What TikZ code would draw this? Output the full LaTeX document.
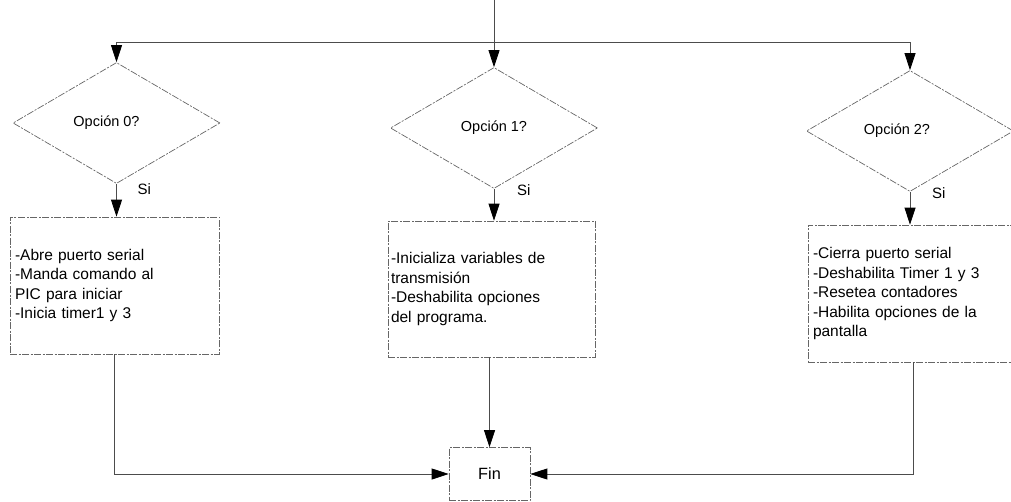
\documentclass[tikz,border=0pt]{standalone}
\usepackage{fontspec}
\setmainfont{Liberation Sans}
\usetikzlibrary{shapes.geometric,arrows.meta,calc}
\begin{document}
\begin{tikzpicture}[x=1pt,y=-1pt,
  shapeline/.style={draw=black!60,line width=0.7pt,dash pattern=on 7pt off 1.5pt on 2pt off 1.5pt},
  decision/.style={shapeline,diamond,inner sep=0pt,minimum width=207pt,minimum height=121pt,
    font=\fontsize{14.5}{17}\selectfont},
  procbox/.style={shapeline,rectangle,inner sep=3pt,align=left,anchor=center,
    font=\fontsize{15.5}{19.5}\selectfont},
  finbox/.style={shapeline,rectangle,minimum width=81pt,minimum height=53pt,inner sep=0pt,
    font=\fontsize{16.3}{19}\selectfont},
  silabel/.style={font=\fontsize{15}{17}\selectfont,inner sep=0pt,anchor=west},
  conn/.style={draw=black!70,line width=0.8pt},
  arr/.style={conn,-{Triangle[length=17pt,width=11pt,color=black]}}]
\useasboundingbox (0,0) rectangle (1011,502);
\clip (0,0) rectangle (1011,502);

% decisions
\node[decision] (d0) at (116.5,123) {Opción 0?\hspace*{20pt}};
\node[decision] (d1) at (494,128) {Opción 1?};
\node[decision] (d2) at (910,131) {Opción 2?\hspace*{26pt}};

% Si labels
\node[silabel] (s0) at ($(d0.south)+(21,5)$) {Si};
\node[silabel] (s1) at ($(d1.south)+(23,1)$) {Si};
\node[silabel] (s2) at ($(d2.south)+(22,1)$) {Si};

% process boxes
\node[procbox,minimum width=209pt,minimum height=137pt,text width=199pt] (b0) at (114.5,285.5)
  {-Abre puerto serial\\-Manda comando al\\PIC para iniciar\\-Inicia timer1 y 3};
\node[procbox,minimum width=207pt,minimum height=136pt,text width=201pt] (b1) at (491.5,289)
  {-Inicializa variables de\\transmisión\\-Deshabilita opciones\\del programa.};
\node[procbox,minimum width=210pt,minimum height=137pt,text width=200pt] (b2) at (913,293.5)
  {-Cierra puerto serial\\-Deshabilita Timer 1 y 3\\-Resetea contadores\\-Habilita opciones de la\\pantalla\\[30pt]};

% end
\node[finbox] (fin) at (489.5,474) {Fin};

% top distribution
\coordinate (top) at (494,0);
\coordinate (j) at (494,42);
\draw[arr] (top) -- (d1.north);
\draw[arr] (j) -| (d0.north);
\draw[arr] (j) -| (d2.north);

% decision to boxes
\draw[arr] (d0.south) -- (d0.south |- b0.north);
\draw[arr] (d1.south) -- (d1.south |- b1.north);
\draw[arr] (d2.south) -- (d2.south |- b2.north);

% boxes to end
\draw[arr] (fin.north |- b1.south) -- (fin.north);
\draw[arr] (b0.south) |- (fin.west);
\draw[arr] (b2.south) |- (fin.east);
\end{tikzpicture}
\end{document}
